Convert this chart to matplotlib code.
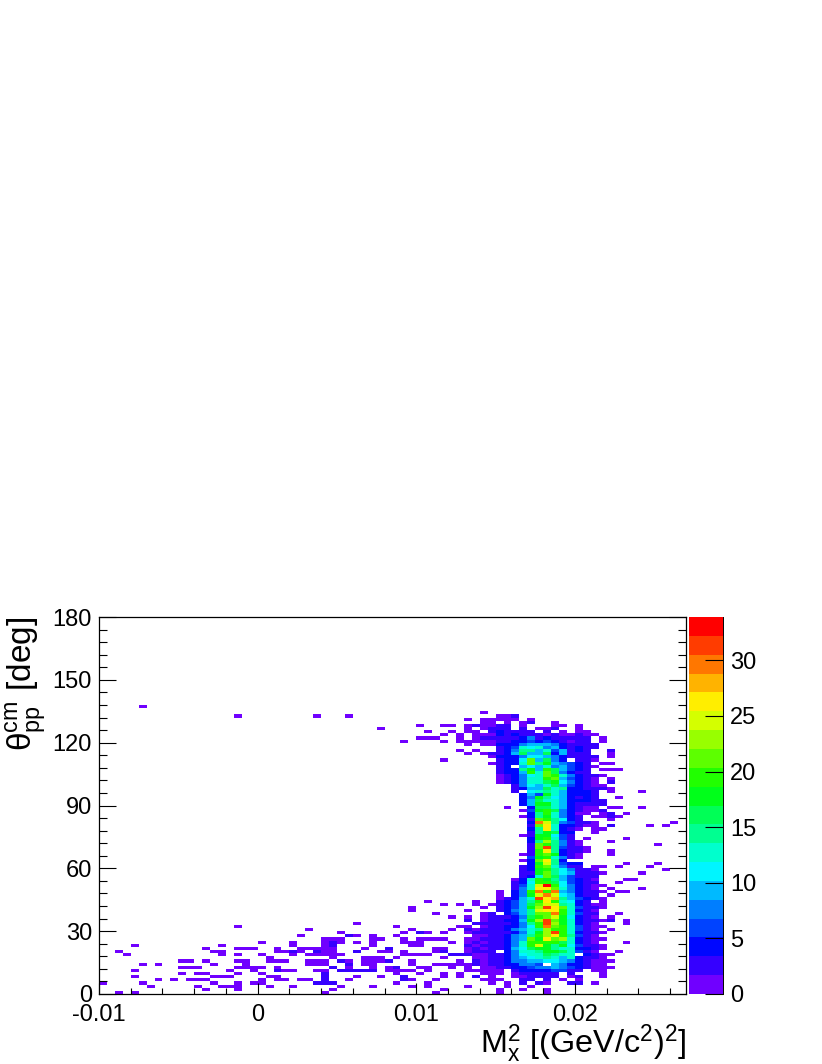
import colorsys
import matplotlib
matplotlib.use("Agg")
import matplotlib.pyplot as plt
import numpy as np
from matplotlib.colors import BoundaryNorm, ListedColormap
from matplotlib.ticker import FixedFormatter, FixedLocator, MultipleLocator

plt.rcParams['font.family'] = ['Liberation Sans', 'DejaVu Sans']
plt.rcParams['mathtext.fontset'] = 'custom'
plt.rcParams['mathtext.rm'] = 'Liberation Sans'
plt.rcParams['mathtext.it'] = 'Liberation Sans'
plt.rcParams['mathtext.bf'] = 'Liberation Sans'

x_min = -0.01
x_bin = 0.0005
x_bins = 74
y_bin = 1.5
y_bins = 120
z_max = 33.9

# counts of the central band, columns 50 to 64, base 36, top row is row 88
core_top_row = 88
core_first_col = 50
core_rows = [
    "112............",
    "111.1..........",
    ".1.12..1.......",
    "22.1...11.1....",
    "32.3.112..1....",
    "43233.2.1.11...",
    "4343321211211..",
    "333573432232.1.",
    "234564643123.1.",
    "45589a9743322..",
    "346dbc8a53422..",
    "348ef9d6a342..1",
    "349ga9g5a232...",
    "4458bb9852322.1",
    "245bl9g85.321..",
    "354cmfi98642..1",
    "25.ab9c896421..",
    "354ehakg9642.1.",
    "245akcmg8532...",
    "1258bdmkc7432..",
    "1247ddkla6421..",
    "1247ccgib7421.2",
    "..38bacga64211.",
    "..35a9gce54322.",
    "..3.bdfca5542.1",
    "...5a6hca5442..",
    "...48hfb94342..",
    "...4agdc945432.",
    "...4ahhc943332.",
    "....5ggca5211.1",
    "...16hjg84211..",
    "....5fkd8511.13",
    "...15ehc753.11.",
    "....3ljfb53...1",
    "....4tpe86321..",
    "....3mqc54211.1",
    "....4fqd531.11.",
    "....3ehg54..1..",
    "...13ihb62.....",
    "....4ikd62.1...",
    "....5fnf821....",
    "....3ljf721....",
    "....3mvf6221...",
    "....2jqf4321...",
    "...12kmh521...1",
    "....6ikd721....",
    "...14lrf5......",
    "....5hpf654....",
    "...25jmd832.1..",
    "...24ikeb8321..",
    "...23hlfba3321.",
    "...34cmga6322..",
    "..14ckhea6421..",
    "..25bjkgb6432..",
    "..36dpxkb75211.",
    "..37cqqlc8431.1",
    "1.47kukta84321.",
    "1.48ioupb9532.1",
    "1259cwqsfa6421.",
    "2469ejrjdb52.1.",
    "2469gmppfc5311.",
    "2469hnwqld6321.",
    "257afpqrjd521..",
    ".469fmlujd632..",
    "2358gkmphb521.1",
    "245ainwmid5321.",
    "2358fkvnhc521..",
    "2447bjumkd6211.",
    "3479cfnkkc631..",
    "2358dinvkd5321.",
    "3479ejnrje621..",
    "348alhqlnd5311.",
    "348ckjkkgc521..",
    "348cjoieib6321.",
    "349bghhfdc5421.",
    ".48ccfiigc631..",
    "348bcdgfcc.421.",
    "358abcfcac5321.",
    "3578aabba85311.",
    "245786.a754211.",
    "2345687a864211.",
    "1.345556632.11.",
    "1.123323.2...1.",
    "..112232.12..1.",
    "1..23.2.1.1....",
    ".1.3.21..22.1..",
    ".1..1..........",
    "1..1..1........",
    "1.....1........",
]

# single entries away from the band: row -> columns, a repeated column adds one count
tail_rows = {
    91: [5],
    89: [48],
    88: [17, 27, 31],
    87: [46, 48, 49],
    86: [48, 49],
    85: [40, 43, 44, 46, 47, 47, 48, 49],
    84: [35, 46, 48, 49, 49],
    83: [41, 44, 46, 47, 49, 49],
    82: [43, 45, 47, 48, 49],
    81: [40, 41, 42, 45, 47, 48, 48, 49, 49],
    80: [38, 43, 45, 46, 47, 48, 49],
    79: [46, 48, 49],
    77: [45, 47, 64],
    76: [46, 48, 49, 49, 64],
    75: [49],
    74: [43],
    73: [49, 63],
    71: [64, 65],
    69: [63],
    68: [64],
    65: [64],
    64: [68],
    62: [65],
    59: [51, 65, 68],
    58: [63, 63, 63],
    57: [66],
    56: [64, 64, 65],
    54: [72],
    53: [64, 69, 71],
    49: [66],
    48: [64],
    47: [70],
    45: [64],
    41: [66, 70],
    40: [63, 65, 69],
    39: [71],
    38: [68],
    36: [66, 67],
    35: [65],
    33: [68],
    32: [65, 66],
    29: [41, 47],
    28: [43, 45, 47, 49],
    27: [39, 48],
    26: [39, 46],
    25: [42, 48, 49, 49, 65],
    24: [44, 46, 48, 49, 49],
    23: [46, 46, 48, 49, 49, 64, 64, 66],
    22: [32, 47, 47, 48, 48, 49, 49, 66],
    21: [17, 37, 45, 46, 48, 49, 49],
    20: [26, 39, 44, 46, 46, 47, 48, 48, 49, 49, 64],
    19: [30, 38, 40, 40, 41, 43, 46, 47, 47, 48, 48, 49, 49],
    18: [25, 31, 31, 31, 32, 34, 37, 47, 48, 49, 49, 49],
    17: [28, 29, 30, 34, 35, 38, 40, 41, 42, 43, 46, 47, 48, 48, 49, 49],
    16: [20, 24, 28, 29, 29, 30, 32, 34, 38, 39, 40, 44, 46, 47, 47, 48, 49, 49, 66],
    15: [4, 15, 24, 28, 29, 29, 34, 39, 40, 46, 46, 47, 48, 48, 49, 49],
    14: [13, 17, 18, 19, 22, 25, 26, 27, 28, 29, 33, 36, 36, 42, 43, 46, 47, 47, 48, 49, 49, 49],
    13: [2, 14, 15, 22, 23, 24, 24, 24, 25, 27, 27, 28, 29, 32, 32, 32, 35, 36, 38, 42, 43, 43,
         46, 47, 47, 47, 48, 48, 49, 49, 49, 65],
    12: [3, 15, 17, 20, 24, 26, 27, 28, 29, 30, 38, 39, 40, 41, 44, 44, 45, 45, 46, 46, 47, 48,
         49, 49, 64],
    11: [21, 29, 33, 34, 35, 37, 43, 47, 48, 49, 49],
    10: [10, 11, 13, 17, 18, 21, 22, 23, 26, 27, 28, 30, 30, 30, 31, 33, 34, 35, 36, 36, 39, 45,
         47, 47, 47, 48, 49, 49, 64],
    9: [5, 7, 14, 18, 26, 27, 28, 31, 31, 33, 34, 39, 42, 43, 44, 45, 46, 47, 47, 47, 48, 49, 49],
    8: [10, 11, 12, 17, 18, 19, 20, 22, 29, 29, 29, 31, 34, 36, 37, 37, 40, 41, 44, 46, 48, 49, 64],
    7: [4, 16, 19, 22, 22, 22, 23, 24, 27, 28, 30, 30, 30, 31, 31, 32, 32, 33, 33, 34, 34, 36, 37,
        38, 39, 41, 46, 47, 48, 49],
    6: [10, 12, 13, 17, 20, 28, 28, 37, 40, 43, 45, 48, 49],
    5: [4, 14, 15, 16, 21, 22, 28, 28, 32, 35, 38, 38, 43, 45, 47, 47, 47, 49],
    4: [7, 9, 11, 12, 13, 20, 22, 23, 25, 26, 28, 28, 31, 38, 38, 39, 42, 48, 49],
    3: [0, 5, 14, 17, 19, 20, 27, 27, 28, 28, 29, 29, 37, 41, 49],
    2: [6, 12, 15, 16, 17, 21, 24, 30, 34, 39, 41, 46],
    1: [13, 17, 29, 43],
    0: [2, 4, 28, 42],
}

x_ticks = [-0.01, 0, 0.01, 0.02]
x_tick_labels = ["-0.01", "0", "0.01", "0.02"]
y_ticks = [0, 30, 60, 90, 120, 150, 180]
z_ticks = [0, 5, 10, 15, 20, 25, 30]

counts = np.zeros((y_bins, x_bins))
for i, fila in enumerate(core_rows):
    for j, c in enumerate(fila):
        if c != ".":
            counts[core_top_row - i, core_first_col + j] = int(c, 36)
for fila, cols in tail_rows.items():
    for col in cols:
        counts[fila, col] += 1

x_edges = x_min + x_bin * np.arange(x_bins + 1)
y_edges = y_bin * np.arange(y_bins + 1)

# 20 contour levels on the ROOT rainbow
n_levels = 20
colores = [colorsys.hsv_to_rgb(h, 1, 1) for h in np.linspace(0.74, 0, n_levels)]
cmap = ListedColormap(colores)
niveles = np.linspace(0, z_max, n_levels + 1)
norm = BoundaryNorm(niveles, n_levels)

W, H = 822, 1064
fig = plt.figure(figsize=(W / 100, H / 100), dpi=100)
ax = fig.add_axes([99 / W, 1 - 994 / H, 587 / W, 377 / H])
ax.pcolormesh(x_edges, y_edges, np.ma.masked_equal(counts, 0), cmap=cmap, norm=norm)
ax.set_xlim(x_min, x_edges[-1])
ax.set_ylim(0, 180)

ax.xaxis.set_major_locator(FixedLocator(x_ticks))
ax.xaxis.set_major_formatter(FixedFormatter(x_tick_labels))
ax.xaxis.set_minor_locator(MultipleLocator(0.002))
ax.yaxis.set_major_locator(FixedLocator(y_ticks))
ax.yaxis.set_minor_locator(MultipleLocator(6))
ax.tick_params(axis='x', which='major', direction='in', length=8, width=0.8, labelsize=17, pad=7)
ax.tick_params(axis='x', which='minor', direction='in', length=4, width=0.8)
ax.tick_params(axis='y', which='major', direction='in', length=12.5, width=0.8, labelsize=17,
               right=True, pad=5)
ax.tick_params(axis='y', which='minor', direction='in', length=6, width=0.8, right=True)
for spine in ax.spines.values():
    spine.set_linewidth(0.9)

fig.text(686 / W, 1 - 1053 / H, r'$\mathrm{M_{x}^{2}\ [(GeV/c^{2})^{2}]}$', fontsize=23.3,
         ha='right', va='baseline')
fig.text(5 / W, 1 - 617 / H, r'$\mathrm{\theta_{pp}^{cm}}$ [deg]', fontsize=24, rotation=90,
         ha='left', va='top')

cax = fig.add_axes([689 / W, 1 - 994 / H, 34 / W, 377 / H])
cax.pcolormesh([0, 1], niveles, niveles[:-1].reshape(-1, 1), cmap=cmap, norm=norm)
cax.set_xticks([])
cax.set_ylim(0, z_max)
cax.yaxis.tick_right()
cax.set_yticks(z_ticks)
cax.tick_params(axis='y', direction='in', length=13, width=0.8, labelsize=17, pad=5)
for lado in ['top', 'left', 'bottom']:
    cax.spines[lado].set_visible(False)
cax.spines['right'].set_linewidth(0.7)

fig.savefig("out.png", dpi=100)
